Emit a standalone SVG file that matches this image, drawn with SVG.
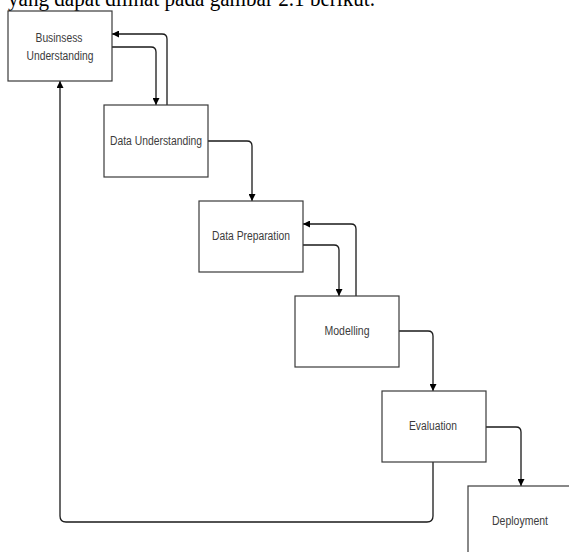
<svg xmlns="http://www.w3.org/2000/svg" width="569" height="552" viewBox="0 0 569 552">
<style>
.box{fill:#fff;stroke:#3a3a3a;stroke-width:1.2}
.lbl{font-family:"Liberation Sans",Arial,sans-serif;font-size:12px;fill:#3c3c3c;text-anchor:middle}
.con{fill:none;stroke:#1a1a1a;stroke-width:1.3}
.cap{font-family:"Liberation Serif","Times New Roman",serif;font-size:23px;fill:#000}
</style>
<defs>
<marker id="ah" viewBox="0 0 10 10" refX="10" refY="5" markerWidth="7" markerHeight="7" markerUnits="userSpaceOnUse" orient="auto">
<path d="M0,0 L10,5 L0,10 Z" fill="#000"/>
</marker>
</defs>
<rect width="569" height="552" fill="#fff"/>
<text class="cap" x="8" y="6" textLength="367" lengthAdjust="spacingAndGlyphs">yang dapat dilihat pada gambar 2.1 berikut.</text>
<g id="connectors">
<path class="con" marker-end="url(#ah)" d="M112,47 H151 Q156,47 156,52 V105"/>
<path class="con" marker-end="url(#ah)" d="M167,105 V39 Q167,34 162,34 H112"/>
<path class="con" marker-end="url(#ah)" d="M208,141 H247 Q252,141 252,146 V201"/>
<path class="con" marker-end="url(#ah)" d="M303,245 H334 Q339,245 339,250 V296"/>
<path class="con" marker-end="url(#ah)" d="M356,296 V229 Q356,224 351,224 H303"/>
<path class="con" marker-end="url(#ah)" d="M399,331 H428 Q433,331 433,336 V391"/>
<path class="con" marker-end="url(#ah)" d="M486,427 H516 Q521,427 521,432 V486"/>
<path class="con" marker-end="url(#ah)" d="M433,462 V516 Q433,522 427,522 H66 Q60,522 60,516 V81"/>
</g>
<g id="business-understanding">
<rect class="box" x="8" y="11" width="104" height="70"/>
<text class="lbl" x="59" y="42" textLength="47" lengthAdjust="spacingAndGlyphs">Businsess</text>
<text class="lbl" x="60" y="60" textLength="67" lengthAdjust="spacingAndGlyphs">Understanding</text>
</g>
<g id="data-understanding">
<rect class="box" x="104" y="105" width="104" height="72"/>
<text class="lbl" x="156" y="145" textLength="92" lengthAdjust="spacingAndGlyphs">Data Understanding</text>
</g>
<g id="data-preparation">
<rect class="box" x="199" y="201" width="104" height="71"/>
<text class="lbl" x="251" y="240" textLength="78" lengthAdjust="spacingAndGlyphs">Data Preparation</text>
</g>
<g id="modelling">
<rect class="box" x="295" y="296" width="104" height="71"/>
<text class="lbl" x="347" y="335" textLength="45" lengthAdjust="spacingAndGlyphs">Modelling</text>
</g>
<g id="evaluation">
<rect class="box" x="382" y="391" width="104" height="71"/>
<text class="lbl" x="433" y="430" textLength="48" lengthAdjust="spacingAndGlyphs">Evaluation</text>
</g>
<g id="deployment">
<rect class="box" x="468" y="486" width="104" height="72"/>
<text class="lbl" x="520" y="525" textLength="56" lengthAdjust="spacingAndGlyphs">Deployment</text>
</g>
</svg>
